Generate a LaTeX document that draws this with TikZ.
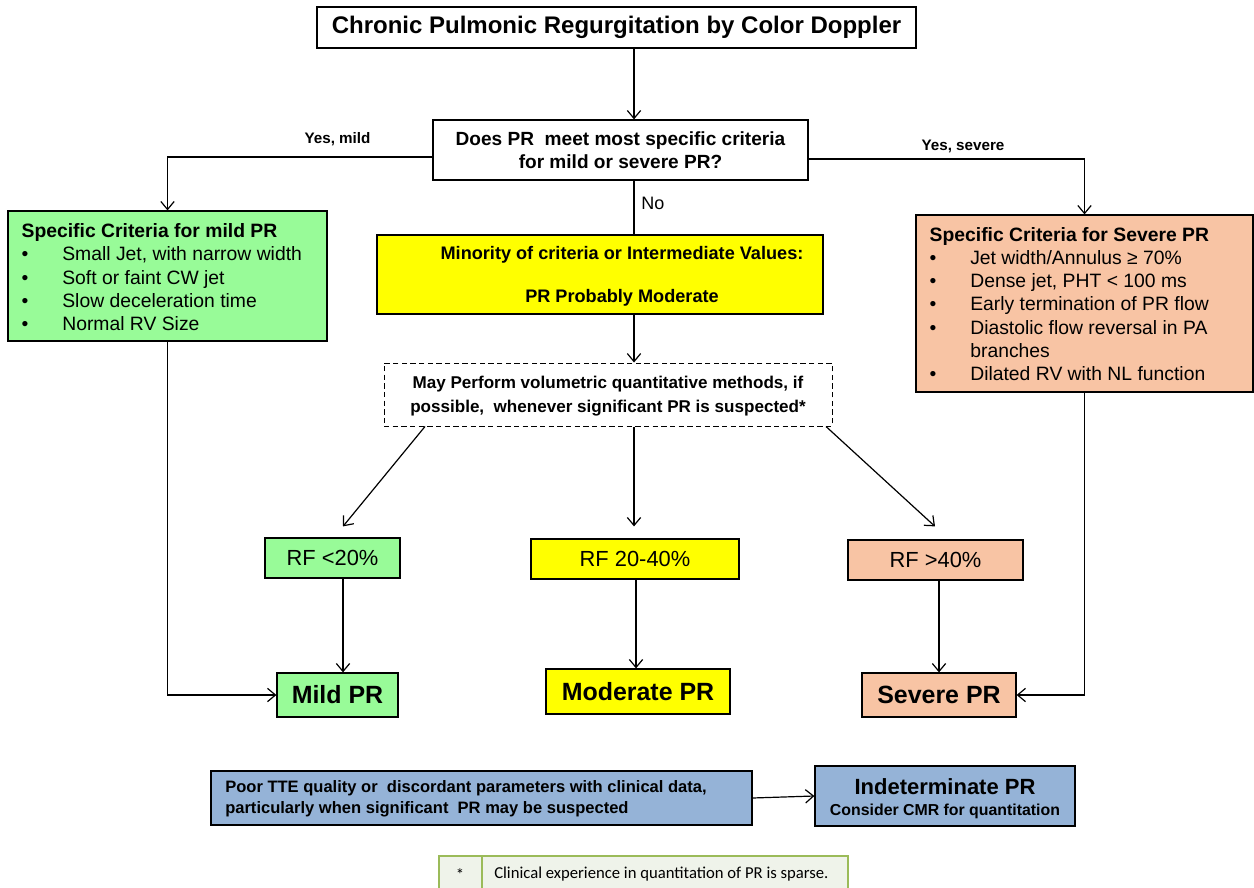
\documentclass[tikz,border=0pt]{standalone}
\usepackage{fontspec}
\setmainfont{Liberation Sans}
\newfontfamily\calib{Carlito}
\usetikzlibrary{arrows.meta,calc}
\definecolor{mildg}{RGB}{152,251,152}
\definecolor{yel}{RGB}{255,255,0}
\definecolor{sevc}{RGB}{248,196,164}
\definecolor{blu}{RGB}{149,179,215}
\definecolor{fnfill}{RGB}{239,243,234}
\definecolor{fnline}{RGB}{155,187,89}
\newcommand{\fs}[2]{\fontsize{#1}{#2}\selectfont}
\newcommand{\bul}{\makebox[30.5pt][l]{•}}
\begin{document}
\begin{tikzpicture}[x=0.75pt,y=-0.75pt,
  box/.style={draw=black, line width=0.9pt, inner sep=0pt, align=center},
  ln/.style={line width=0.9pt},
  arr/.style={line width=0.9pt,-{Straight Barb[length=6pt,width=10pt,line width=0.9pt]}},
  lab/.style={font=\bfseries\fs{11.4}{13}, inner sep=0pt}]
\useasboundingbox (0,0) rectangle (1254,888);

% boxes
\node[box, minimum width=449.25pt, minimum height=30.75pt, font=\bfseries\fs{18}{21}] (title) at (616.5,27.5) {\raisebox{-1.8pt}{Chronic Pulmonic Regurgitation by Color Doppler}};
\node[box, minimum width=281.25pt, minimum height=45pt, font=\bfseries\fs{14.3}{17.25}] (q) at (620.5,150) {Does PR\ \ meet most specific criteria\\for mild or severe PR?};

\node[box, fill=mildg, minimum width=239.25pt, minimum height=97.5pt] (mildc) at (167.5,276) {};
\node[anchor=north west, inner sep=0pt, align=left, font=\fs{14.5}{17.5}] (mildt) at ([xshift=10.5pt,yshift=-9.5pt]mildc.north west) {\textbf{Specific Criteria for mild PR}\\\bul Small Jet, with narrow width\\\bul Soft or faint CW jet\\\bul Slow deceleration time\\\bul Normal RV Size};

\node[box, fill=sevc, minimum width=252.75pt, minimum height=132.75pt] (sevbox) at (1084.5,303.5) {};
\node[anchor=north west, inner sep=0pt, align=left, font=\fs{14.5}{17.4}] (sevt) at ([xshift=10.5pt,yshift=-9.5pt]sevbox.north west) {\textbf{Specific Criteria for Severe PR}\\\bul Jet width/Annulus ≥ 70\%\\\bul Dense jet, PHT < 100 ms\\\bul Early termination of PR flow\\\bul Diastolic flow reversal in PA\\\hspace*{30.5pt}branches\\\bul Dilated RV with NL function};

\node[box, fill=yel, minimum width=334.5pt, minimum height=59.25pt] (yel) at (600,274.5) {};
\node[font=\bfseries\fs{13.6}{32.25}, align=center, inner sep=0pt] (yelt) at (622,276.5) {Minority of criteria or Intermediate Values:\\PR Probably Moderate};

\node[box, dash pattern=on 4pt off 2.5pt, line width=0.75pt, minimum width=336pt, minimum height=47.25pt] (dsh) at (608,394.5) {};
\node[font=\bfseries\fs{12.8}{18}, align=center, inner sep=0pt] (dsht) at (608,396.5) {May Perform volumetric quantitative methods, if\\possible,\ \ whenever significant PR is suspected*};

\node[box, fill=mildg, minimum width=101.25pt, minimum height=30pt, font=\fs{16.4}{19}] (rf1) at (332.5,558) {RF <20\%};
\node[box, fill=yel, minimum width=156pt, minimum height=30pt, font=\fs{16.4}{19}] (rf2) at (635,559) {RF 20-40\%};
\node[box, fill=sevc, minimum width=131.25pt, minimum height=30pt, font=\fs{16.4}{19}] (rf3) at (935.5,560) {RF >40\%};

\node[box, fill=mildg, minimum width=90.75pt, minimum height=33pt, font=\bfseries\fs{18.7}{22}] (mild) at (337.5,695) {Mild PR};
\node[box, fill=yel, minimum width=138pt, minimum height=33.75pt, font=\bfseries\fs{18.7}{22}] (mod) at (638,691.5) {Moderate PR};
\node[box, fill=sevc, minimum width=115.5pt, minimum height=33pt, font=\bfseries\fs{18.7}{22}] (sev) at (939,695) {Severe PR};

\node[box, fill=blu, minimum width=405.75pt, minimum height=40.5pt] (poor) at (481.5,798) {};
\node[anchor=west, align=left, inner sep=0pt, font=\bfseries\fs{12.4}{15.75}] (poort) at (225,798.5) {Poor TTE quality or\ \ discordant parameters with clinical data,\\particularly when significant\ \ PR may be suspected};
\node[box, fill=blu, minimum width=195pt, minimum height=45pt] (ind) at (945,796) {};
\node[anchor=base, inner sep=0pt, font=\bfseries\fs{16.5}{20}] (indt1) at (945,794) {Indeterminate PR};
\node[anchor=base, inner sep=0pt, font=\bfseries\fs{11.9}{14}] (indt2) at (945,815) {Consider CMR for quantitation};

% labels
\node[lab] (ym) at (337.5,139) {Yes, mild};
\node[lab] (ys) at (963,146) {Yes, severe};
\node[font=\fs{13.5}{16}, anchor=west, inner sep=0pt] (no) at (641,203) {No};

% footnote
\node[fill=fnfill, minimum width=306.75pt, minimum height=24pt, inner sep=0pt] (fn) at (643.5,872) {};
\draw[fnline, line width=1.3pt] (fn.south west) -- (fn.north west) -- (fn.north east) -- (fn.south east);
\draw[fnline, line width=1.3pt] (fn.north west -| 482,0) -- (fn.south west -| 482,0);
\node[font=\calib\fs{12.5}{14}, inner sep=0pt] (fnstar) at (460,875) {*};
\node[font=\calib\fs{12.5}{14}, anchor=west, inner sep=0pt] (fntext) at (494,874) {Clinical experience in quantitation of PR is sparse.};

% connectors
\coordinate (cx) at (634,0);
\draw[arr] (title.south -| cx) -- (q.north -| cx);
\draw[ln] (q.south -| cx) -- (yel.north -| cx);
\draw[arr] (yel.south -| cx) -- (dsh.north -| cx);
\draw[arr] (q.west |- 0,157) -| (mildc.north);
\draw[arr] (q.east |- 0,159) -| (sevbox.north);

\draw[arr] (dsh.south -| 425,0) -- ($(rf1.north)+(10.5,-11)$);
\draw[arr] (dsh.south -| cx) -- ($(rf2.north -| cx)+(0,-12)$);
\draw[arr] (dsh.south -| 826,0) -- ($(rf3.north)+(-0.5,-13)$);

\draw[arr] (rf1.south -| 343,0) -- (mild.north -| 343,0);
\draw[arr] (rf2.south -| 636,0) -- (mod.north -| 636,0);
\draw[arr] (rf3.south -| 939,0) -- (sev.north -| 939,0);

\draw[arr] (mildc.south) |- (mild.west);
\draw[arr] (sevbox.south) |- (sev.east);
\draw[arr] (poor.east) -- (ind.west);
\end{tikzpicture}
\end{document}
